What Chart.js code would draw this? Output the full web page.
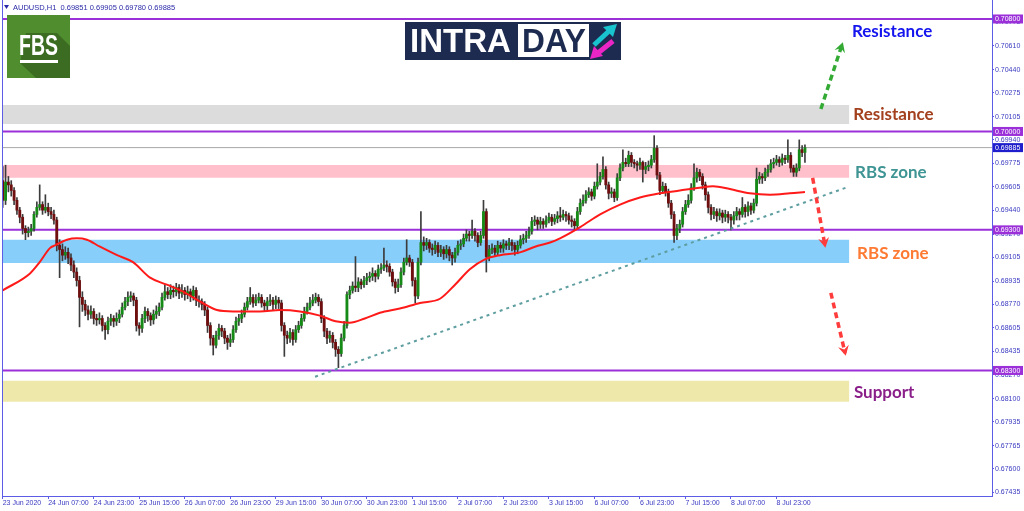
<!DOCTYPE html>
<html>
<head>
<meta charset="utf-8">
<script src="https://cdn.jsdelivr.net/npm/chart.js@4.4.0/dist/chart.umd.min.js"></script>
<style>
html,body{margin:0;padding:0;background:#fff;overflow:hidden}
canvas{display:block}
</style>
</head>
<body>
<canvas id="chart" width="1024" height="511"></canvas>
<script>
// AUDUSD H1 bars, 23 Jun 15:00 -> 9 Jul 09:00
const opens = [
0.6965,0.6951,0.6964,0.6962,0.6958,0.6951,0.6944,0.6939,0.6931,0.6928,
0.6929,0.6931,0.6941,0.6946,0.6948,0.6944,0.6946,0.6943,0.6941,0.6937,
0.6919,0.6916,0.6912,0.6914,0.6910,0.6905,0.6900,0.6894,0.6882,0.6877,
0.6873,0.6870,0.6872,0.6867,0.6866,0.6867,0.6862,0.6859,0.6865,0.6867,
0.6865,0.6867,0.6870,0.6875,0.6879,0.6882,0.6883,0.6880,0.6862,0.6860,
0.6867,0.6872,0.6869,0.6866,0.6870,0.6872,0.6875,0.6882,0.6886,0.6884,
0.6887,0.6886,0.6889,0.6885,0.6887,0.6884,0.6886,0.6883,0.6887,0.6880,
0.6879,0.6877,0.6873,0.6862,0.6853,0.6848,0.6855,0.6860,0.6858,0.6853,
0.6850,0.6852,0.6859,0.6865,0.6867,0.6870,0.6875,0.6879,0.6882,0.6878,
0.6880,0.6882,0.6878,0.6876,0.6879,0.6880,0.6877,0.6880,0.6878,0.6862,
0.6855,0.6853,0.6857,0.6852,0.6859,0.6862,0.6867,0.6872,0.6875,0.6878,
0.6880,0.6882,0.6879,0.6867,0.6858,0.6853,0.6855,0.6850,0.6845,0.6842,
0.6853,0.6862,0.6884,0.6887,0.6890,0.6889,0.6893,0.6891,0.6894,0.6896,
0.6897,0.6899,0.6897,0.6902,0.6903,0.6905,0.6904,0.6900,0.6893,0.6889,
0.6891,0.6900,0.6907,0.6910,0.6907,0.6894,0.6883,0.6907,0.6921,0.6919,
0.6921,0.6917,0.6916,0.6919,0.6914,0.6916,0.6913,0.6916,0.6912,0.6910,
0.6914,0.6919,0.6920,0.6924,0.6927,0.6926,0.6929,0.6926,0.6921,0.6926,
0.6943,0.6911,0.6916,0.6917,0.6914,0.6919,0.6917,0.6920,0.6919,0.6921,
0.6919,0.6916,0.6919,0.6923,0.6924,0.6926,0.6929,0.6936,0.6937,0.6934,
0.6936,0.6934,0.6937,0.6939,0.6936,0.6938,0.6940,0.6939,0.6941,0.6940,
0.6937,0.6936,0.6933,0.6943,0.6949,0.6951,0.6955,0.6957,0.6954,0.6961,
0.6964,0.6968,0.6973,0.6962,0.6956,0.6957,0.6953,0.6967,0.6974,0.6978,
0.6977,0.6983,0.6978,0.6977,0.6976,0.6978,0.6973,0.6975,0.6976,0.6980,
0.6988,0.6969,0.6958,0.6961,0.6957,0.6949,0.6941,0.6926,0.6931,0.6934,
0.6943,0.6948,0.6951,0.6960,0.6967,0.6971,0.6968,0.6962,0.6955,0.6946,
0.6941,0.6943,0.6940,0.6942,0.6939,0.6941,0.6939,0.6937,0.6940,0.6943,
0.6941,0.6946,0.6943,0.6947,0.6944,0.6949,0.6966,0.6968,0.6967,0.6971,
0.6973,0.6977,0.6978,0.6980,0.6978,0.6981,0.6980,0.6983,0.6974,0.6971,
0.6974,0.6987,0.69851
];
const highs = [
0.6975,0.6976,0.6968,0.6965,0.6960,0.6953,0.6946,0.6941,0.6933,0.6932,
0.6934,0.6943,0.6950,0.6962,0.6950,0.6955,0.6949,0.6946,0.6944,0.6939,
0.6923,0.6920,0.6918,0.6917,0.6913,0.6908,0.6903,0.6897,0.6886,0.6880,
0.6876,0.6876,0.6874,0.6870,0.6871,0.6869,0.6864,0.6868,0.6870,0.6869,
0.6871,0.6873,0.6878,0.6882,0.6886,0.6886,0.6885,0.6882,0.6864,0.6870,
0.6875,0.6874,0.6871,0.6873,0.6876,0.6878,0.6885,0.6891,0.6889,0.6891,
0.6890,0.6892,0.6891,0.6891,0.6889,0.6890,0.6888,0.6890,0.6889,0.6883,
0.6881,0.6879,0.6875,0.6864,0.6855,0.6858,0.6863,0.6862,0.6860,0.6855,
0.6856,0.6862,0.6868,0.6870,0.6873,0.6878,0.6882,0.6889,0.6884,0.6884,
0.6885,0.6884,0.6880,0.6882,0.6884,0.6882,0.6883,0.6882,0.6880,0.6864,
0.6858,0.6860,0.6859,0.6862,0.6865,0.6870,0.6875,0.6878,0.6882,0.6884,
0.6885,0.6884,0.6881,0.6869,0.6860,0.6858,0.6857,0.6852,0.6847,0.6856,
0.6865,0.6886,0.6890,0.6893,0.6911,0.6896,0.6895,0.6897,0.6899,0.6900,
0.6903,0.6901,0.6905,0.6906,0.6917,0.6908,0.6906,0.6902,0.6895,0.6895,
0.6903,0.6910,0.6923,0.6912,0.6909,0.6896,0.6910,0.6943,0.6925,0.6924,
0.6923,0.6920,0.6922,0.6921,0.6919,0.6918,0.6919,0.6918,0.6914,0.6917,
0.6922,0.6923,0.6927,0.6930,0.6929,0.6937,0.6931,0.6928,0.6929,0.6951,
0.6945,0.6919,0.6920,0.6919,0.6922,0.6921,0.6923,0.6922,0.6924,0.6923,
0.6921,0.6922,0.6926,0.6927,0.6929,0.6932,0.6939,0.6940,0.6939,0.6939,
0.6938,0.6940,0.6942,0.6941,0.6941,0.6943,0.6946,0.6944,0.6943,0.6942,
0.6940,0.6938,0.6946,0.6952,0.6955,0.6958,0.6960,0.6959,0.6964,0.6977,
0.6971,0.6982,0.6975,0.6964,0.6960,0.6959,0.6970,0.6977,0.6987,0.6981,
0.6986,0.6985,0.6980,0.6979,0.6981,0.6979,0.6978,0.6979,0.6983,0.6997,
0.6990,0.6971,0.6964,0.6963,0.6959,0.6951,0.6943,0.6934,0.6937,0.6946,
0.6951,0.6955,0.6963,0.6977,0.6974,0.6973,0.6970,0.6964,0.6957,0.6948,
0.6946,0.6945,0.6945,0.6944,0.6944,0.6943,0.6941,0.6943,0.6946,0.6945,
0.6953,0.6948,0.6950,0.6949,0.6952,0.6974,0.6971,0.6970,0.6974,0.6976,
0.6980,0.6981,0.6983,0.6982,0.6984,0.6983,0.6994,0.6985,0.6976,0.6977,
0.6994,0.6990,0.69905
];
const lows = [
0.6946,0.6948,0.6957,0.6954,0.6948,0.6941,0.6935,0.6927,0.6923,0.6925,
0.6926,0.6929,0.6939,0.6944,0.6941,0.6942,0.6940,0.6938,0.6934,0.6915,
0.6896,0.6908,0.6909,0.6906,0.6901,0.6896,0.6890,0.6861,0.6872,0.6869,
0.6866,0.6867,0.6863,0.6862,0.6863,0.6858,0.6852,0.6856,0.6862,0.6861,
0.6862,0.6864,0.6868,0.6873,0.6876,0.6879,0.6876,0.6858,0.6855,0.6857,
0.6864,0.6865,0.6862,0.6863,0.6867,0.6869,0.6873,0.6880,0.6881,0.6881,
0.6882,0.6883,0.6881,0.6882,0.6880,0.6881,0.6879,0.6880,0.6876,0.6875,
0.6873,0.6869,0.6857,0.6848,0.6841,0.6846,0.6852,0.6854,0.6849,0.6845,
0.6847,0.6850,0.6857,0.6862,0.6864,0.6868,0.6873,0.6877,0.6875,0.6876,
0.6878,0.6875,0.6872,0.6873,0.6876,0.6873,0.6874,0.6874,0.6858,0.6840,
0.6849,0.6850,0.6848,0.6850,0.6857,0.6860,0.6865,0.6870,0.6873,0.6876,
0.6878,0.6876,0.6864,0.6854,0.6849,0.6850,0.6846,0.6840,0.6832,0.6840,
0.6851,0.6860,0.6881,0.6885,0.6886,0.6886,0.6888,0.6889,0.6891,0.6893,
0.6894,0.6893,0.6895,0.6899,0.6901,0.6900,0.6897,0.6890,0.6885,0.6886,
0.6889,0.6898,0.6905,0.6904,0.6890,0.6878,0.6881,0.6905,0.6915,0.6916,
0.6914,0.6912,0.6913,0.6911,0.6911,0.6909,0.6910,0.6908,0.6905,0.6907,
0.6912,0.6916,0.6918,0.6922,0.6922,0.6924,0.6922,0.6918,0.6919,0.6924,
0.6900,0.6908,0.6913,0.6911,0.6912,0.6914,0.6914,0.6916,0.6916,0.6915,
0.6912,0.6913,0.6917,0.6920,0.6921,0.6924,0.6927,0.6933,0.6930,0.6931,
0.6931,0.6932,0.6935,0.6933,0.6934,0.6935,0.6936,0.6937,0.6936,0.6934,
0.6932,0.6930,0.6931,0.6941,0.6947,0.6949,0.6953,0.6951,0.6952,0.6959,
0.6962,0.6966,0.6959,0.6952,0.6953,0.6950,0.6951,0.6965,0.6972,0.6975,
0.6975,0.6975,0.6974,0.6972,0.6973,0.6964,0.6970,0.6972,0.6974,0.6978,
0.6966,0.6955,0.6956,0.6954,0.6946,0.6938,0.6921,0.6923,0.6928,0.6932,
0.6941,0.6946,0.6949,0.6958,0.6964,0.6965,0.6959,0.6951,0.6942,0.6937,
0.6938,0.6936,0.6937,0.6935,0.6936,0.6935,0.6930,0.6934,0.6937,0.6937,
0.6939,0.6939,0.6940,0.6941,0.6942,0.6947,0.6963,0.6963,0.6965,0.6968,
0.6971,0.6974,0.6976,0.6975,0.6976,0.6977,0.6978,0.6971,0.6968,0.6968,
0.6972,0.6982,0.69780
];
const closes = [
0.6951,0.6964,0.6962,0.6958,0.6951,0.6944,0.6939,0.6931,0.6928,0.6929,
0.6931,0.6941,0.6946,0.6948,0.6944,0.6946,0.6943,0.6941,0.6937,0.6919,
0.6916,0.6912,0.6914,0.6910,0.6905,0.6900,0.6894,0.6882,0.6877,0.6873,
0.6870,0.6872,0.6867,0.6866,0.6867,0.6862,0.6859,0.6865,0.6867,0.6865,
0.6867,0.6870,0.6875,0.6879,0.6882,0.6883,0.6880,0.6862,0.6860,0.6867,
0.6872,0.6869,0.6866,0.6870,0.6872,0.6875,0.6882,0.6886,0.6884,0.6887,
0.6886,0.6889,0.6885,0.6887,0.6884,0.6886,0.6883,0.6887,0.6880,0.6879,
0.6877,0.6873,0.6862,0.6853,0.6848,0.6855,0.6860,0.6858,0.6853,0.6850,
0.6852,0.6859,0.6865,0.6867,0.6870,0.6875,0.6879,0.6882,0.6878,0.6880,
0.6882,0.6878,0.6876,0.6879,0.6880,0.6877,0.6880,0.6878,0.6862,0.6855,
0.6853,0.6857,0.6852,0.6859,0.6862,0.6867,0.6872,0.6875,0.6878,0.6880,
0.6882,0.6879,0.6867,0.6858,0.6853,0.6855,0.6850,0.6845,0.6842,0.6853,
0.6862,0.6884,0.6887,0.6890,0.6889,0.6893,0.6891,0.6894,0.6896,0.6897,
0.6899,0.6897,0.6902,0.6903,0.6905,0.6904,0.6900,0.6893,0.6889,0.6891,
0.6900,0.6907,0.6910,0.6907,0.6894,0.6883,0.6907,0.6921,0.6919,0.6921,
0.6917,0.6916,0.6919,0.6914,0.6916,0.6913,0.6916,0.6912,0.6910,0.6914,
0.6919,0.6920,0.6924,0.6927,0.6926,0.6929,0.6926,0.6921,0.6926,0.6943,
0.6911,0.6916,0.6917,0.6914,0.6919,0.6917,0.6920,0.6919,0.6921,0.6919,
0.6916,0.6919,0.6923,0.6924,0.6926,0.6929,0.6936,0.6937,0.6934,0.6936,
0.6934,0.6937,0.6939,0.6936,0.6938,0.6940,0.6939,0.6941,0.6940,0.6937,
0.6936,0.6933,0.6943,0.6949,0.6951,0.6955,0.6957,0.6954,0.6961,0.6964,
0.6968,0.6973,0.6962,0.6956,0.6957,0.6953,0.6967,0.6974,0.6978,0.6977,
0.6983,0.6978,0.6977,0.6976,0.6978,0.6973,0.6975,0.6976,0.6980,0.6988,
0.6969,0.6958,0.6961,0.6957,0.6949,0.6941,0.6926,0.6931,0.6934,0.6943,
0.6948,0.6951,0.6960,0.6967,0.6971,0.6968,0.6962,0.6955,0.6946,0.6941,
0.6943,0.6940,0.6942,0.6939,0.6941,0.6939,0.6937,0.6940,0.6943,0.6941,
0.6946,0.6943,0.6947,0.6944,0.6949,0.6966,0.6968,0.6967,0.6971,0.6973,
0.6977,0.6978,0.6980,0.6978,0.6981,0.6980,0.6983,0.6974,0.6971,0.6974,
0.6987,0.6985,0.69885
];

// moving average, sampled along the red line (bar index / price)
const maBars = [0,9.6,13,16.6,18.4,22.6,26.1,29.6,34.2,40.2,45.8,51.8,57.7,63.4,69.4,75.3,81,90.4,97.5,104.5,
  111.5,117,122,127.3,132.6,139.6,146.7,153.7,159,164.2,169.5,174.8,181.8,187.1,192.4,195.9,203,210,217,224,
  231,238,245,249.7,255.6,262.6,269.7,276.7,282];
const maValues = [0.6887,0.6899,0.6907,0.6917,0.6919,0.6923,0.6924,0.6923,0.6918,0.6912,0.6907,0.6896,0.6891,0.6886,0.6879,0.6873,0.6872,0.6872,0.6873,0.6872,
  0.6869,0.6865,0.6864,0.6867,0.6871,0.6874,0.6878,0.6881,0.6891,0.6902,0.6909,0.6912,0.6914,0.6918,0.6921,0.6924,0.6932,0.6941,0.6948,0.6953,
  0.6956,0.6958,0.6960,0.6961,0.6959,0.6956,0.6955,0.6956,0.6957];

const xTickBars = [0,16,32,48,64,80,96,112,128,144,160,176,192,208,224,240,256,272];
const xTickLabels = ['23 Jun 2020','24 Jun 07:00','24 Jun 23:00','25 Jun 15:00','26 Jun 07:00','26 Jun 23:00',
  '29 Jun 15:00','30 Jun 07:00','30 Jun 23:00','1 Jul 15:00','2 Jul 07:00','2 Jul 23:00','3 Jul 15:00',
  '6 Jul 07:00','6 Jul 23:00','7 Jul 15:00','8 Jul 07:00','8 Jul 23:00'];
const yTicks = [0.70775,0.70610,0.70440,0.70275,0.70105,0.69940,0.69775,0.69605,0.69440,0.69270,0.69105,
  0.68935,0.68770,0.68605,0.68435,0.68270,0.68100,0.67935,0.67765,0.67600,0.67435];

const levels = [0.70800, 0.70000, 0.69300, 0.68300];
const bidPrice = 0.69885;

const zoneTops = [0.70188, 0.69762, 0.69229, 0.68226];
const zoneBottoms = [0.70053, 0.69670, 0.69065, 0.68077];
const zoneColors = ['#dcdcdc', '#ffc0cb', '#87cefa', '#eee8aa'];
const zoneEnd = 297.6;

const trendBars = [109.8, 297.5];
const trendPrices = [0.68255, 0.69608];

const arrowBars = [[287.6, 295], [284.7, 289], [291.1, 296.1]];
const arrowPrices = [[0.70160, 0.70615], [0.69670, 0.69193], [0.68852, 0.68425]];
const arrowColors = ['#33aa33', '#ff3b3b', '#ff3b3b'];

const noteTexts = ['Resistance', 'Resistance', 'RBS zone', 'RBS zone', 'Support'];
const noteBars = [298.5, 299, 299.6, 300.3, 299.2];
const notePrices = [0.70710, 0.70117, 0.69707, 0.69129, 0.68141];
const noteColors = ['#1414ee', '#a3401d', '#3f9494', '#ff7a33', '#8a1f8a'];

const X_MIN = -0.25, X_MAX = 347.75;
const AXIS = '#5c5ce6';
const AXIS_TEXT = '#3a3ac2';
const PURPLE = '#9b30d9';
const tickFont = {family: 'Liberation Sans', size: 7};

const datasets = [];

zoneTops.forEach((top, i) => {
  datasets.push({
    type: 'line',
    data: [{x: X_MIN, y: top}, {x: zoneEnd, y: top}],
    fill: {value: zoneBottoms[i]},
    backgroundColor: zoneColors[i],
    borderWidth: 0,
    pointRadius: 0,
    order: 20
  });
});

levels.forEach(l => {
  datasets.push({
    type: 'line',
    data: [{x: X_MIN, y: l}, {x: X_MAX, y: l}],
    borderColor: PURPLE,
    borderWidth: 2,
    pointRadius: 0,
    order: 15
  });
});

datasets.push({
  type: 'line',
  data: [{x: X_MIN, y: bidPrice}, {x: X_MAX, y: bidPrice}],
  borderColor: '#a8a8a8',
  borderWidth: 1,
  pointRadius: 0,
  order: 15
});

// wicks
datasets.push({
  type: 'bar',
  data: highs.map((h, i) => ({x: i, y: [lows[i], h]})),
  backgroundColor: '#3c3c3c',
  barThickness: 1,
  grouped: false,
  order: 4
});

// bodies
datasets.push({
  type: 'bar',
  data: opens.map((o, i) => ({x: i, y: [o, closes[i]]})),
  backgroundColor: opens.map((o, i) => closes[i] >= o ? '#168a16' : '#6e0e0e'),
  barThickness: 2.2,
  minBarLength: 1,
  grouped: false,
  order: 3
});

datasets.push({
  type: 'line',
  data: maBars.map((b, i) => ({x: b, y: maValues[i]})),
  borderColor: '#ff1a1a',
  borderWidth: 2,
  pointRadius: 0,
  cubicInterpolationMode: 'monotone',
  order: 2
});

datasets.push({
  type: 'line',
  data: trendBars.map((b, i) => ({x: b, y: trendPrices[i]})),
  borderColor: '#5f9ea0',
  borderWidth: 2,
  borderDash: [3, 4],
  pointRadius: 0,
  order: 1
});

arrowBars.forEach((bars, i) => {
  datasets.push({
    type: 'line',
    data: bars.map((b, j) => ({x: b, y: arrowPrices[i][j]})),
    borderColor: arrowColors[i],
    borderWidth: 3.5,
    borderDash: [6, 4],
    pointRadius: 0,
    arrowHead: true,
    order: 0
  });
});

const decor = {
  id: 'decor',
  beforeDraw(chart) {
    const ctx = chart.ctx;
    ctx.save();
    ctx.fillStyle = '#fff';
    ctx.fillRect(0, 0, chart.width, chart.height);
    ctx.restore();
  },
  afterDatasetsDraw(chart) {
    const ctx = chart.ctx;
    chart.data.datasets.forEach((ds, di) => {
      if (!ds.arrowHead) return;
      const pts = chart.getDatasetMeta(di).data;
      const a = pts[0], b = pts[pts.length - 1];
      const ang = Math.atan2(b.y - a.y, b.x - a.x);
      ctx.save();
      ctx.translate(b.x, b.y);
      ctx.rotate(ang);
      ctx.fillStyle = ds.borderColor;
      ctx.beginPath();
      ctx.moveTo(3, 0);
      ctx.lineTo(-7, -5.5);
      ctx.lineTo(-3.5, 0);
      ctx.lineTo(-7, 5.5);
      ctx.closePath();
      ctx.fill();
      ctx.restore();
    });
  },
  afterDraw(chart) {
    const ctx = chart.ctx;
    const {left, right, top, bottom} = chart.chartArea;
    const xs = chart.scales.x, ys = chart.scales.y;
    ctx.save();

    // left frame line
    ctx.strokeStyle = AXIS;
    ctx.lineWidth = 1;
    ctx.beginPath();
    ctx.moveTo(left + 0.5, top);
    ctx.lineTo(left + 0.5, bottom);
    ctx.stroke();

    // price boxes on the axis
    const boxes = levels.map(v => [v, PURPLE]).concat([[bidPrice, '#1e1ecc']]);
    ctx.font = '7px "Liberation Sans"';
    ctx.textBaseline = 'middle';
    boxes.forEach(([v, col]) => {
      const y = ys.getPixelForValue(v);
      ctx.fillStyle = col;
      ctx.fillRect(right + 1, y - 4.5, 30, 9);
      ctx.fillStyle = '#fff';
      ctx.fillText(v.toFixed(5), right + 3, y + 0.5);
    });

    // notes
    ctx.font = 'bold 17px Lato';
    noteTexts.forEach((t, i) => {
      ctx.fillStyle = noteColors[i];
      ctx.fillText(t, xs.getPixelForValue(noteBars[i]), ys.getPixelForValue(notePrices[i]));
    });

    // header
    ctx.fillStyle = '#2a2aa8';
    ctx.beginPath();
    ctx.moveTo(4, 5); ctx.lineTo(9, 5); ctx.lineTo(6.5, 9);
    ctx.closePath();
    ctx.fill();
    ctx.font = '7.5px "Liberation Sans"';
    ctx.fillText('AUDUSD,H1  0.69851 0.69905 0.69780 0.69885', 13, 7.5);

    // FBS logo
    ctx.fillStyle = '#4f8d2f';
    ctx.fillRect(7, 15, 63, 63);
    ctx.fillStyle = '#3b6c22';
    ctx.beginPath();
    ctx.moveTo(26, 33); ctx.lineTo(57, 33); ctx.lineTo(70, 46);
    ctx.lineTo(70, 78); ctx.lineTo(36, 78); ctx.lineTo(20, 63);
    ctx.closePath();
    ctx.fill();
    ctx.fillStyle = '#ffffff';
    ctx.font = 'bold 30px "Liberation Sans"';
    ctx.textBaseline = 'alphabetic';
    ctx.fillText('FBS', 19, 55, 39);
    ctx.fillRect(20, 60, 38, 3);

    // INTRADAY logo
    ctx.fillStyle = '#1c2b4f';
    ctx.fillRect(405, 22, 216, 38);
    ctx.fillStyle = '#ffffff';
    ctx.font = 'bold 33px "Liberation Sans"';
    ctx.fillText('INTRA', 410, 52, 106);
    ctx.fillRect(518, 24, 71, 33);
    ctx.fillStyle = '#1c2b4f';
    ctx.fillText('DAY', 522, 52, 64);
    ctx.lineCap = 'butt';
    ctx.lineWidth = 5;
    ctx.strokeStyle = '#19c4cf';
    ctx.beginPath(); ctx.moveTo(594, 45); ctx.lineTo(609, 31); ctx.stroke();
    ctx.fillStyle = '#19c4cf';
    ctx.beginPath(); ctx.moveTo(617, 24); ctx.lineTo(603, 27); ctx.lineTo(613, 37); ctx.closePath(); ctx.fill();
    ctx.strokeStyle = '#ec26c6';
    ctx.beginPath(); ctx.moveTo(613, 41); ctx.lineTo(598, 53); ctx.stroke();
    ctx.fillStyle = '#ec26c6';
    ctx.beginPath(); ctx.moveTo(590, 59); ctx.lineTo(594, 46); ctx.lineTo(603, 56); ctx.closePath(); ctx.fill();

    ctx.restore();
  }
};

new Chart(document.getElementById('chart'), {
  type: 'bar',
  data: {datasets: datasets},
  options: {
    responsive: false,
    animation: false,
    devicePixelRatio: 1,
    layout: {padding: {left: 2, top: 0, right: 0, bottom: 0}},
    plugins: {legend: {display: false}, tooltip: {enabled: false}},
    scales: {
      x: {
        type: 'linear',
        min: X_MIN,
        max: X_MAX,
        offset: false,
        afterBuildTicks: s => { s.ticks = xTickBars.map(v => ({value: v})); },
        afterFit: s => { s.height = 15; s.paddingLeft = 0; s.paddingRight = 0; },
        ticks: {
          autoSkip: false,
          maxRotation: 0,
          minRotation: 0,
          align: 'start',
          padding: 0,
          color: AXIS_TEXT,
          font: tickFont,
          callback: (v, i) => xTickLabels[i]
        },
        grid: {drawOnChartArea: false, offset: false, tickLength: 3, color: AXIS},
        border: {color: AXIS, width: 1}
      },
      y: {
        position: 'right',
        min: 0.67407,
        max: 0.70935,
        beginAtZero: false,
        afterBuildTicks: s => { s.ticks = yTicks.map(v => ({value: v})); },
        afterFit: s => { s.width = 32; s.paddingTop = 0; s.paddingBottom = 0; },
        ticks: {
          padding: 1,
          color: AXIS_TEXT,
          font: tickFont,
          callback: v => v.toFixed(5)
        },
        grid: {drawOnChartArea: false, tickLength: 2, color: AXIS},
        border: {color: AXIS, width: 1}
      }
    }
  },
  plugins: [decor]
});
</script>
</body>
</html>
